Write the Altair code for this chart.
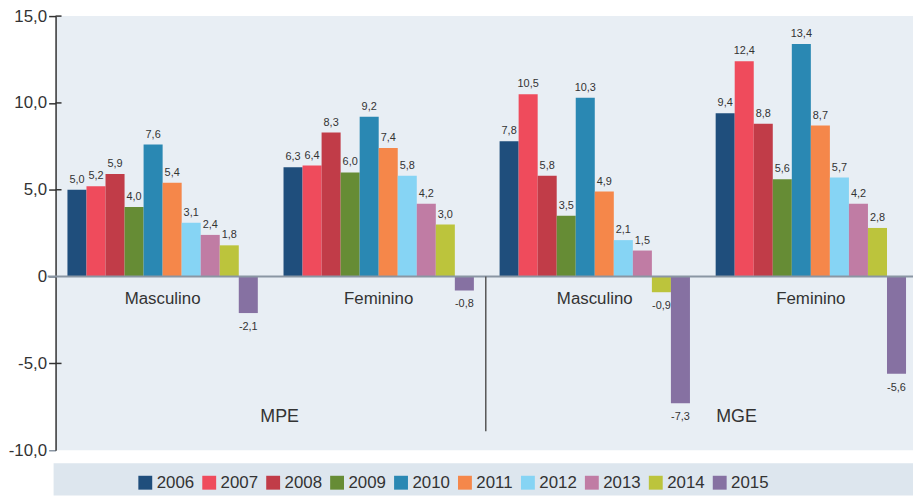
import altair as alt
import pandas as pd

years = ["2006", "2007", "2008", "2009", "2010", "2011", "2012", "2013", "2014", "2015"]
colors = ["#1f4e7c", "#ef4b5c", "#c13c48", "#668c35", "#2a88b3",
          "#f5874a", "#86d4f4", "#c07ca4", "#bcc43c", "#8671a2"]
groups = ["MPE Masculino", "MPE Feminino", "MGE Masculino", "MGE Feminino"]
group_labels = ["Masculino", "Feminino", "Masculino", "Feminino"]

mpe_masc = [5.0, 5.2, 5.9, 4.0, 7.6, 5.4, 3.1, 2.4, 1.8, -2.1]
mpe_fem = [6.3, 6.4, 8.3, 6.0, 9.2, 7.4, 5.8, 4.2, 3.0, -0.8]
mge_masc = [7.8, 10.5, 5.8, 3.5, 10.3, 4.9, 2.1, 1.5, -0.9, -7.3]
mge_fem = [9.4, 12.4, 8.8, 5.6, 13.4, 8.7, 5.7, 4.2, 2.8, -5.6]
y_ticks = [-10, -5, 0, 5, 10, 15]

series = [mpe_masc, mpe_fem, mge_masc, mge_fem]
rows = []
for g, vals in zip(groups, series):
    for yr, v in zip(years, vals):
        rows.append({"group": g, "year": yr, "value": v,
                     "label": f"{v:.1f}".replace(".", ",")})
df = pd.DataFrame(rows)
df_pos = df[df["value"] >= 0]
df_neg = df[df["value"] < 0]
glab = pd.DataFrame({"group": groups, "text": group_labels})
ticks = pd.DataFrame({"v": y_ticks})

FONT = "Liberation Sans, Arial, sans-serif"
TXT = "#333333"

xscale = alt.Scale(domain=groups, paddingInner=0.119, paddingOuter=0.0436, align=0.63)
yscale = alt.Scale(domain=[-10, 15], nice=False, zero=False)
X = alt.X("group:N", scale=xscale, axis=None, sort=groups)
XO = alt.XOffset("year:N", scale=alt.Scale(domain=years, paddingInner=0, paddingOuter=0))

base = alt.Chart(df)

band = alt.Chart(pd.DataFrame({"b1": [-10.75], "b2": [-12.6]})).mark_rect(color="#dde6ee").encode(
    x=alt.value(-2), x2=alt.value(865), y=alt.Y("b1:Q", scale=yscale), y2="b2:Q")

bars = base.mark_bar().encode(
    x=X, xOffset=XO,
    y=alt.Y("value:Q", scale=yscale,
            axis=alt.Axis(values=y_ticks, grid=False, domainColor="#333333", domainWidth=1.5,
                          tickColor={"condition": {"test": "datum.value == 0 || datum.value == -10",
                                                   "value": "#8a96a3"}, "value": "#333333"},
                          tickSize=7, tickWidth=1.5,
                          labelFont=FONT, labelFontSize=17, labelColor=TXT, labelPadding=2,
                          labelExpr="datum.value == 0 ? '0' : replace(replace(format(datum.value, '.1f'), '.', ','), '\u2212', '-')",
                          title=None)),
    color=alt.Color("year:N", scale=alt.Scale(domain=years, range=colors),
                    legend=alt.Legend(title=None, orient="none", direction="horizontal", columns=10,
                                      legendX=82, legendY=462, padding=0,
                                      symbolType="square", symbolSize=196, symbolStrokeWidth=0,
                                      symbolOpacity=1,
                                      labelFont=FONT, labelFontSize=17, labelColor=TXT,
                                      labelOffset=3, columnPadding=6.5)),
)

lab_pos = alt.Chart(df_pos).mark_text(font=FONT, fontSize=11, color=TXT, baseline="bottom", dy=-5).encode(
    x=X, xOffset=XO, y=alt.Y("value:Q", scale=yscale), text="label:N")
lab_neg = alt.Chart(df_neg).mark_text(font=FONT, fontSize=11, color=TXT, baseline="top", dy=8).encode(
    x=X, xOffset=XO, y=alt.Y("value:Q", scale=yscale), text="label:N")

zero = alt.Chart(pd.DataFrame({"v": [0]})).mark_rule(color="#8a96a3", strokeWidth=2).encode(
    y=alt.Y("v:Q", scale=yscale), x=alt.value(-8), x2=alt.value(865))

inner_ticks = alt.Chart(ticks[(ticks["v"] != 0) & (ticks["v"] != -10)]).mark_rule(
    color="#333333", strokeWidth=1.5).encode(
    y=alt.Y("v:Q", scale=yscale), x=alt.value(0), x2=alt.value(6))

gtext = alt.Chart(glab).mark_text(font=FONT, fontSize=17, color=TXT, baseline="middle", dy=23).encode(
    x=alt.X("group:N", scale=xscale, axis=None, sort=groups), y=alt.datum(0), text="text:N")

sections = pd.DataFrame({"name": ["MPE", "MGE"], "px": [226, 687]})
stext = alt.Chart(sections).mark_text(font=FONT, fontSize=18, color=TXT, baseline="middle").encode(
    x=alt.X("px:Q", scale=None), y=alt.value(404), text="name:N")

sep = alt.Chart(pd.DataFrame({"v": [0], "v2": [-8.9]})).mark_rule(color="#555555", strokeWidth=1.5).encode(
    x=alt.value(434), y=alt.Y("v:Q", scale=yscale), y2="v2:Q")

chart = alt.layer(band, bars, zero, inner_ticks, lab_pos, lab_neg, gtext, stext, sep).properties(
    width=865, height=438,
    autosize=alt.AutoSizeParams(type="none"),
    padding={"left": 48, "top": 6, "right": 0, "bottom": 45},
).configure_view(fill="#e8eef4", stroke=None).resolve_scale(x="shared")

chart.save("out.html", embed_options={"renderer": "svg", "actions": False})
